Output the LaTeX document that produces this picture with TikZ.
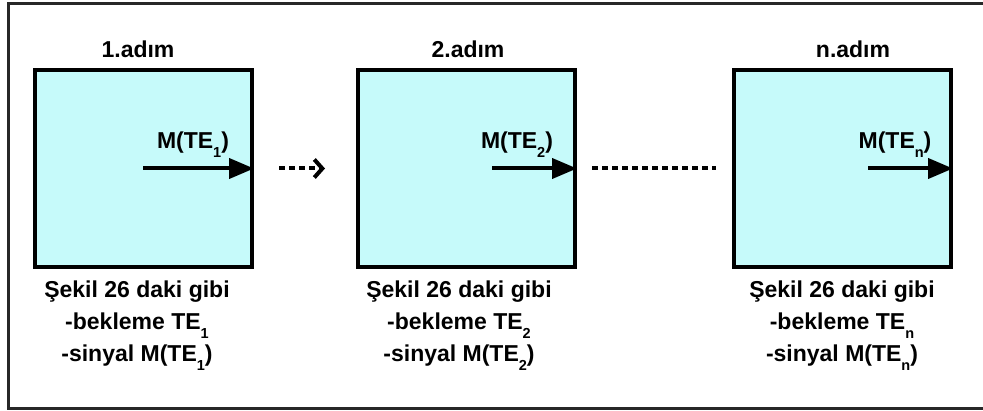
\documentclass[tikz,border=0pt]{standalone}
\usepackage{fontspec}
\setmainfont{Liberation Sans}
\usetikzlibrary{arrows.meta}
\definecolor{boxfill}{RGB}{198,250,250}
\definecolor{framecol}{RGB}{40,40,40}
\newcommand\subx[1]{\raisebox{-0.38em}{\fontsize{14.5}{14.5}\selectfont #1}}
\tikzset{
  stepbox/.style={draw=black, line width=4pt, fill=boxfill, minimum width=217pt, minimum height=197pt, inner sep=0pt},
  txt/.style={font=\fontsize{23}{26}\selectfont\bfseries, inner sep=0pt},
  captxt/.style={txt, align=center, font=\fontsize{23}{32}\selectfont\bfseries},
  sig/.style={line width=4pt, -{Triangle[length=25pt,width=20pt]}},
  dashar/.style={line width=4pt, dash pattern=on 6pt off 4pt, -{Straight Barb[length=8pt,width=18pt,line width=4pt]}},
  dotline/.style={line width=4pt, dash pattern=on 5.5pt off 4.5pt}
}
\begin{document}
\begin{tikzpicture}[x=1pt,y=-1pt]
\useasboundingbox (0,0) rectangle (983,411);
\begin{scope}
\clip (0,0) rectangle (983,411);
\draw[framecol, line width=3pt] (8,4) rectangle (995,409);
\end{scope}
% boxes
\node[stepbox] (b1) at (143.5,168.5) {};
\node[stepbox] (b2) at (466.5,168.5) {};
\node[stepbox] (b3) at (842.5,168.5) {};
% titles
\node[txt] (t1) at (138,49) {1.adım};
\node[txt] (t2) at (468,49) {2.adım};
\node[txt] (t3) at (853,49) {n.adım};
% signal arrows
\coordinate (s1) at (143,168.5);
\coordinate (s2) at (492,168.5);
\coordinate (s3) at (868,168.5);
\draw[sig] (s1) -- (b1.east);
\draw[sig] (s2) -- (b2.east);
\draw[sig] (s3) -- (b3.east);
\node[txt] (m1) at (193,145) {M(TE\subx{1})};
\node[txt] (m2) at (517,145) {M(TE\subx{2})};
\node[txt] (m3) at (895,145) {M(TE\subx{n})};
% connectors between steps
\draw[dashar] ([xshift=25pt]b1.east) -- ([xshift=-31pt]b2.west);
\draw[dotline] ([xshift=15pt]b2.east) -- ([xshift=-16pt]b3.west);
% captions
\node[captxt] (c1) at (137,326) {Şekil 26 daki gibi\\-bekleme TE\subx{1}\\-sinyal M(TE\subx{1})};
\node[captxt] (c2) at (459,326) {Şekil 26 daki gibi\\-bekleme TE\subx{2}\\-sinyal M(TE\subx{2})};
\node[captxt] (c3) at (842,326) {Şekil 26 daki gibi\\-bekleme TE\subx{n}\\-sinyal M(TE\subx{n})};
\end{tikzpicture}
\end{document}
